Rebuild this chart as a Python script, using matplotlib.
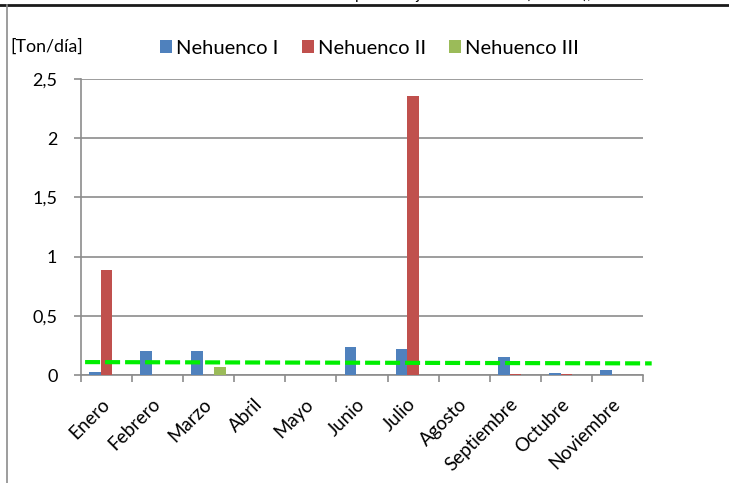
import matplotlib.pyplot as plt
from matplotlib.transforms import ScaledTranslation
import numpy as np

# monthly emissions [Ton/dia]
meses = ['Enero', 'Febrero', 'Marzo', 'Abril', 'Mayo', 'Junio', 'Julio',
         'Agosto', 'Septiembre', 'Octubre', 'Noviembre']
nehuenco_1 = [0.025, 0.20, 0.20, 0, 0, 0.236, 0.22, 0, 0.15, 0.017, 0.042]
nehuenco_2 = [0.887, 0, 0, 0, 0, 0, 2.356, 0, 0.01, 0.01, 0]
nehuenco_3 = [0, 0, 0.067, 0, 0, 0, 0, 0, 0, 0, 0]
# dashed reference line (start, end)
ref_x = [-0.42, 10.67]
ref_y = [0.109, 0.098]

plt.rcParams['font.family'] = ['Lato', 'DejaVu Sans']

fig = plt.figure(figsize=(7.29, 4.83), dpi=100)
ax = fig.add_axes([81 / 729, 1 - 375 / 483, 562 / 729, 296 / 483])

x = np.arange(len(meses))
w = 0.225
ax.bar(x - w, nehuenco_1, w, color='#4f81bd', label='Nehuenco I', zorder=3)
ax.bar(x, nehuenco_2, w, color='#c0504d', label='Nehuenco II', zorder=3)
ax.bar(x + w, nehuenco_3, w, color='#9bbb59', label='Nehuenco III', zorder=3)

ax.plot(ref_x, ref_y, color='#00ee00', lw=3, ls=(0, (3.6, 1.2)),
        clip_on=False, zorder=4)

ax.set_xlim(-0.5, len(meses) - 0.5)
ax.set_ylim(0, 2.5)
ax.set_yticks([0, 0.5, 1, 1.5, 2, 2.5])
ax.set_yticklabels(['0', '0,5', '1', '1,5', '2', '2,5'], fontsize=13)
ax.yaxis.grid(True, color='#8c8c8c', lw=1.2, zorder=0)

ax.set_xticks(x)
ax.set_xticklabels(meses, rotation=45, ha='right', va='center',
                   rotation_mode='anchor', fontsize=13.5)
shift = ScaledTranslation(5 / 100, 0, fig.dpi_scale_trans)
for lab in ax.get_xticklabels():
    lab.set_transform(lab.get_transform() + shift)
ax.set_xticks(np.arange(-0.5, len(meses)), minor=True)
ax.tick_params(axis='x', which='major', length=0, pad=19)
ax.tick_params(axis='x', which='minor', length=5, color='#8c8c8c', width=1.2)
ax.tick_params(axis='y', length=5, color='#8c8c8c', width=1.2, pad=12)

for s in ['top', 'right']:
    ax.spines[s].set_visible(False)
for s in ['left', 'bottom']:
    ax.spines[s].set_color('#8c8c8c')
    ax.spines[s].set_linewidth(1.2)

fig.legend(loc='center left', bbox_to_anchor=(160 / 729, 1 - 48 / 483),
           ncol=3, frameon=False, fontsize=14.5, handlelength=0.6,
           handleheight=0.6, handletextpad=0.2, columnspacing=1.15,
           borderaxespad=0, borderpad=0)
fig.text(10 / 729, 1 - 47 / 483, '[Ton/día]', fontsize=12.8, va='center')

# chart frame and cut-off title
fig.add_artist(plt.Line2D([0, 1], [1 - 5 / 483, 1 - 5 / 483], color='#1a1a1a', lw=2))
fig.add_artist(plt.Line2D([7 / 729, 7 / 729], [0, 1 - 5 / 483], color='#8c8c8c', lw=1.2))
fig.text(0.6, 1 + 1 / 483, 'Emisiones por trabajo en Nehuenco (Ton/día),',
         fontsize=11, ha='center', va='baseline')

fig.savefig('out.png', dpi=100)
